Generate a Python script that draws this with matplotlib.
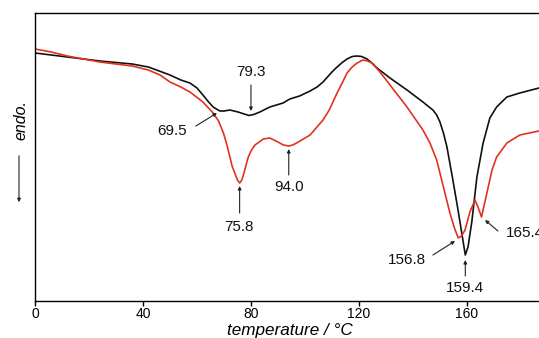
import numpy as np
import matplotlib
matplotlib.use("Agg")
import matplotlib.pyplot as plt

plt.rcParams.update({"font.family": ["Liberation Sans", "DejaVu Sans"], "font.size": 10})

RED = "#e2321f"
INK = "#111111"

# ---- DSC traces (temperature in degC, heat flow in arb. units, endo down) ----
t_black = [0, 6, 12, 18, 24, 30, 36, 42, 46, 50, 54, 57.4, 60, 62.2, 64, 66, 67.5, 68.5, 70,
           72.2, 75.2, 77.5, 79.3, 81, 83.3, 87, 91.9, 94.4, 98, 101.9, 104.5, 106.7, 110, 111.9,
           113.8, 115.6, 117.5, 119.3, 121, 123, 124.8, 126.7, 131.5, 137.8, 143.7, 146, 147.4,
           148.8, 150, 151.3, 152.6, 154.8, 156.7, 158.5, 159.4, 160.4, 161.8, 163.7, 166,
           168.5, 171, 174.8, 179.6, 186.7]
hf_black = [248, 246, 244, 242, 240, 238.5, 237, 234, 230, 226, 221, 218, 213, 206, 200,
            194, 191.5, 190, 190, 191, 189, 187, 185.5, 186.5, 189, 194, 198, 202, 205, 210,
            214, 219, 229, 234, 238.5, 242, 244.5, 245, 244.5, 242, 238, 233, 223, 211, 199,
            194, 191, 186, 179, 168, 154, 121, 91, 61, 46, 54, 79, 124, 158, 183, 194, 204,
            208, 213]

t_red = [0, 6, 12, 18, 24, 30, 36, 42, 46.3, 50, 54, 57.4, 62.2, 66, 68, 69.8, 71, 72.2,
         73, 74, 75, 75.8, 76.6, 77.2, 78, 79, 80.2, 81.5, 84.6, 87, 90, 92, 94, 95.5,
         96.9, 101.9, 106.7, 109, 111.9, 113.8, 115.6, 117.5, 119.3, 121.5, 123.2, 124.8,
         127.8, 131.5, 137.8, 143.7, 146.3, 148.8, 151.3, 153.7, 155.5, 156.8, 158, 159.3,
         161.1, 163, 164.1, 165.4, 167.4, 169.3, 171, 174.8, 179.6, 186.7]
hf_red = [252, 249, 245, 242, 239, 237, 235, 231, 226, 219, 214, 209, 199, 188, 180, 168,
          157, 144, 135, 128, 121, 118, 121, 126, 134, 144, 151, 156, 162, 163, 159, 156,
          155, 156, 158, 166, 181, 191, 208, 218, 228, 234, 238, 241, 240, 238, 229, 216,
          194, 171, 158, 141, 114, 88, 72, 63, 65, 71, 89, 101, 94, 84, 108, 131, 144, 158,
          166, 170]

# peak labels: (text, text pos, arrow tail, arrow head)
peaks = [("79.3", (80, 229), (80, 216), (80, 190)),
         ("69.5", (50.7, 170), (59.6, 175), (67.4, 188)),
         ("75.8", (75.6, 74), (75.8, 88), (75.8, 115)),
         ("94.0", (94.1, 114), (94.0, 126), (94.0, 152)),
         ("156.8", (137.8, 41), (147.4, 46), (155.6, 60)),
         ("159.4", (159.4, 13), (159.4, 25), (159.4, 41)),
         ("165.4", (181.5, 68), (171.5, 70), (166.7, 81))]

fig = plt.figure(figsize=(5.39, 3.38), dpi=100)
ax = fig.add_axes([35/539, 1-301/338, 1-35/539, (301-13)/338])

ax.plot(t_black, hf_black, color=INK, lw=1.2, solid_joinstyle="round")
ax.plot(t_red, hf_red, color=RED, lw=1.2, solid_joinstyle="round")

for s, tp, tail, head in peaks:
    ax.text(tp[0], tp[1], s, fontsize=11, ha="center", va="center", color=INK)
    ax.annotate("", xy=head, xytext=tail,
                arrowprops=dict(arrowstyle="-|>", color="#222222", lw=0.8,
                                mutation_scale=5, shrinkA=0, shrinkB=0))

ax.set_xlim(0, 186.7)
ax.set_ylim(0, 288)
ax.set_xticks([0, 40, 80, 120, 160])
ax.set_yticks([])
ax.tick_params(axis="x", direction="out", length=3.5, width=1.0, pad=1, labelsize=10)
ax.spines["right"].set_visible(False)
for sp in ["top", "left", "bottom"]:
    ax.spines[sp].set_linewidth(1.0)

fig.text(290/539, 1-330/338, "temperature / \u00b0C", fontsize=12.3, style="italic",
         ha="center", va="center")
fig.text(21/539, 1-120/338, "endo.", fontsize=11.5, style="italic", rotation=90,
         ha="center", va="center")
fig.patches.append(matplotlib.patches.FancyArrowPatch(
    (19/539, 1-153/338), (19/539, 1-205/338), transform=fig.transFigure,
    arrowstyle="-|>", mutation_scale=5, lw=0.8, color="#222222"))

fig.savefig("out.png", dpi=100)
